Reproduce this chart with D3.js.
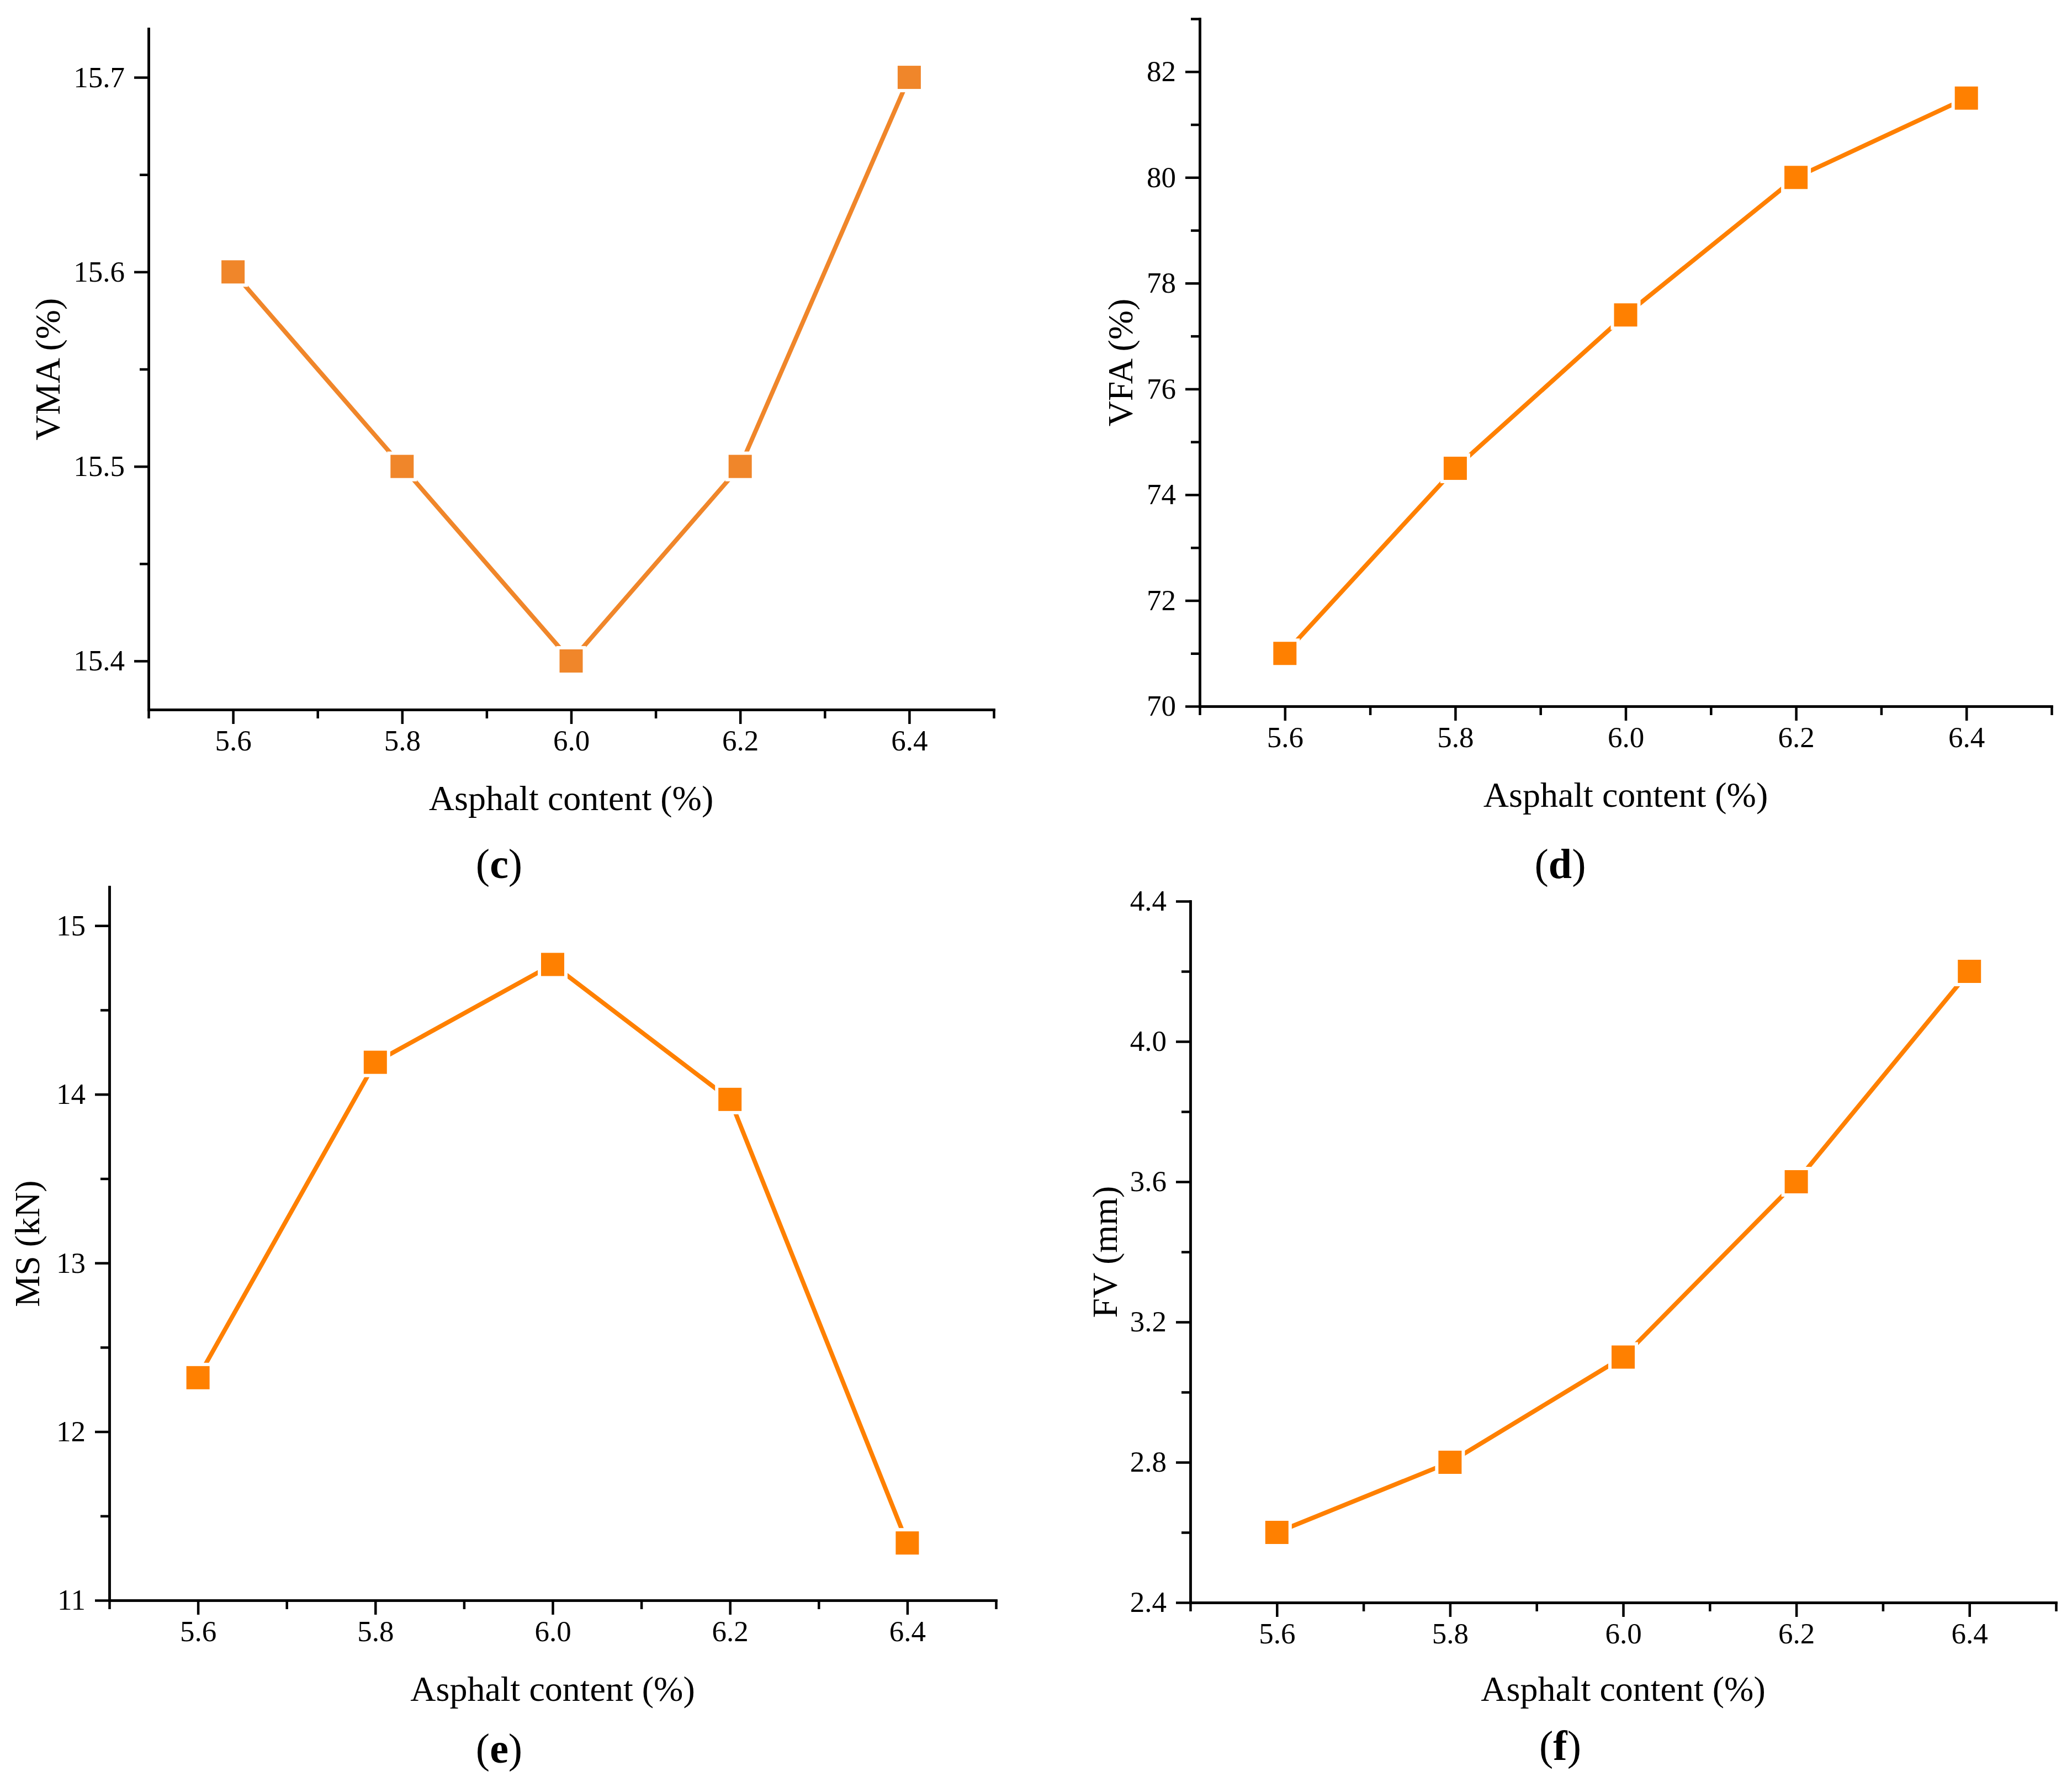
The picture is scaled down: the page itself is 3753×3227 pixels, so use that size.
<!DOCTYPE html>
<html>
<head>
<meta charset="utf-8">
<script src="https://cdn.jsdelivr.net/npm/d3@7.9.0/dist/d3.min.js"></script>
<style>
  body { margin: 0; background: #fff; }
  text { font-family: "Liberation Serif", "Times New Roman", serif; fill: #000; }
</style>
</head>
<body>
<div id="chart"></div>
<script>
// data
const asphalt = [5.6, 5.8, 6.0, 6.2, 6.4];
const vma = [15.6, 15.5, 15.4, 15.5, 15.7];
const vfa = [71.0, 74.5, 77.4, 80.0, 81.5];
const ms = [12.32, 14.19, 14.77, 13.97, 11.34];
const fv = [2.6, 2.8, 3.1, 3.6, 4.2];

// tick values
const xMajor = [5.6, 5.8, 6.0, 6.2, 6.4];
const xMinor = [5.5, 5.7, 5.9, 6.1, 6.3, 6.5];
const vmaMajor = [15.4, 15.5, 15.6, 15.7];
const vmaMinor = [15.45, 15.55, 15.65];
const vfaMajor = [70, 72, 74, 76, 78, 80, 82];
const vfaMinor = [71, 73, 75, 77, 79, 81, 83];
const msMajor = [11, 12, 13, 14, 15];
const msMinor = [11.5, 12.5, 13.5, 14.5];
const fvMajor = [2.4, 2.8, 3.2, 3.6, 4.0, 4.4];
const fvMinor = [2.6, 3.0, 3.4, 3.8, 4.2];

const W = 3753, H = 3227;

const svg = d3.select("#chart")
    .append("svg")
    .attr("width", W)
    .attr("height", H)
    .style("display", "block");

svg.append("rect").attr("width", W).attr("height", H).attr("fill", "#fff");

const panels = [
    {label: "c", yTitle: "VMA (%)", values: vma, yDomain: [15.375, 15.725],
     yMajor: vmaMajor, yMinor: vmaMinor, yFmt: ".1f", color: "#f0862a",
     left: 269, right: 1800, top: 52, bottom: 1285,
     yTitleX: 87, xTitleY: 1448, labelX: 904, labelY: 1567},
    {label: "d", yTitle: "VFA (%)", values: vfa, yDomain: [70, 83],
     yMajor: vfaMajor, yMinor: vfaMinor, yFmt: "d", color: "#ff8000",
     left: 2173, right: 3716, top: 34, bottom: 1279,
     yTitleX: 2030, xTitleY: 1442, labelX: 2826, labelY: 1567},
    {label: "e", yTitle: "MS (kN)", values: ms, yDomain: [11, 15.23],
     yMajor: msMajor, yMinor: msMinor, yFmt: "d", color: "#ff8000",
     left: 198, right: 1804, top: 1606, bottom: 2898,
     yTitleX: 50, xTitleY: 3061, labelX: 904, labelY: 3169},
    {label: "f", yTitle: "FV (mm)", values: fv, yDomain: [2.4, 4.4],
     yMajor: fvMajor, yMinor: fvMinor, yFmt: ".1f", color: "#ff8000",
     left: 2156, right: 3724, top: 1632, bottom: 2902,
     yTitleX: 2002, xTitleY: 3061, labelX: 2826, labelY: 3164}
];

const axisW = 4.5;

function styleAxis(g) {
    g.select(".domain").attr("stroke", "#000").attr("stroke-width", axisW)
        .attr("stroke-linecap", "square");
    g.selectAll(".tick line").attr("stroke", "#000").attr("stroke-width", axisW);
    g.selectAll(".tick text").attr("fill", "#000")
        .style("font-family", '"Liberation Serif", "Times New Roman", serif')
        .style("font-size", "53px");
}

panels.forEach(p => {
    const x = d3.scaleLinear().domain([5.5, 6.5]).range([p.left, p.right]);
    const y = d3.scaleLinear().domain(p.yDomain).range([p.bottom, p.top]);
    const g = svg.append("g");

    // minor ticks
    g.append("g")
        .attr("transform", "translate(0," + p.bottom + ")")
        .call(d3.axisBottom(x).tickValues(xMinor).tickSize(16).tickSizeOuter(0).tickFormat(""))
        .call(styleAxis);
    g.append("g")
        .attr("transform", "translate(" + p.left + ",0)")
        .call(d3.axisLeft(y).tickValues(p.yMinor).tickSize(16).tickSizeOuter(0).tickFormat(""))
        .call(styleAxis);

    // major ticks and labels
    g.append("g")
        .attr("transform", "translate(0," + p.bottom + ")")
        .call(d3.axisBottom(x).tickValues(xMajor).tickSize(26).tickSizeOuter(0)
            .tickPadding(10).tickFormat(d3.format(".1f")))
        .call(styleAxis);
    g.append("g")
        .attr("transform", "translate(" + p.left + ",0)")
        .call(d3.axisLeft(y).tickValues(p.yMajor).tickSize(26).tickSizeOuter(0)
            .tickPadding(17).tickFormat(d3.format(p.yFmt)))
        .call(styleAxis);

    const pts = asphalt.map((a, i) => [x(a), y(p.values[i])]);

    // line
    g.append("path")
        .datum(pts)
        .attr("d", d3.line())
        .attr("fill", "none")
        .attr("stroke", p.color)
        .attr("stroke-width", 8);

    // white gap around the symbols, then the symbols
    const ms2 = 42, gap = 6;
    g.selectAll(".halo")
        .data(pts)
        .enter()
        .append("rect")
        .attr("x", d => d[0] - ms2 / 2 - gap)
        .attr("y", d => d[1] - ms2 / 2 - gap)
        .attr("width", ms2 + 2 * gap)
        .attr("height", ms2 + 2 * gap)
        .attr("fill", "#fff");
    g.selectAll(".sym")
        .data(pts)
        .enter()
        .append("rect")
        .attr("x", d => d[0] - ms2 / 2)
        .attr("y", d => d[1] - ms2 / 2)
        .attr("width", ms2)
        .attr("height", ms2)
        .attr("fill", p.color);

    // axis titles
    g.append("text")
        .attr("x", (p.left + p.right) / 2)
        .attr("y", p.xTitleY)
        .attr("dy", "0.3em")
        .attr("text-anchor", "middle")
        .style("font-size", "64px")
        .text("Asphalt content (%)");

    g.append("text")
        .attr("transform", "translate(" + p.yTitleX + "," + (p.top + p.bottom) / 2 + ") rotate(-90)")
        .attr("dy", "0.33em")
        .attr("text-anchor", "middle")
        .style("font-size", "64px")
        .text(p.yTitle);

    // panel label
    const lab = g.append("text")
        .attr("x", p.labelX)
        .attr("y", p.labelY)
        .attr("dy", "0.3em")
        .attr("text-anchor", "middle")
        .style("font-size", "76px");
    lab.append("tspan").style("font-weight", "normal").text("(");
    lab.append("tspan").style("font-weight", "bold").text(p.label);
    lab.append("tspan").style("font-weight", "normal").text(")");
});
</script>
</body>
</html>
